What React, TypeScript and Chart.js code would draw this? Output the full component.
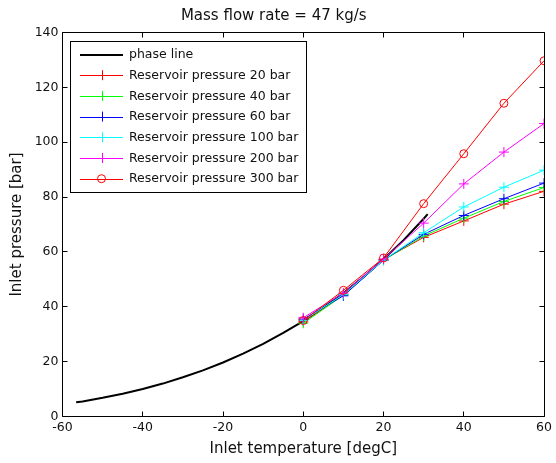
import React, { useEffect, useRef } from "react";
import { Chart, registerables } from "chart.js";

Chart.register(...registerables);

const TITLE = "Mass flow rate = 47 kg/s";
const X_TITLE = "Inlet temperature [degC]";
const Y_TITLE = "Inlet pressure [bar]";

const X_MIN = -60;
const X_MAX = 60;
const X_STEP = 20;
const Y_MIN = 0;
const Y_MAX = 140;
const Y_STEP = 20;

// CO2 phase line (saturation curve)
const PHASE_T = [-56.6, -55, -50, -45, -40, -35, -30, -25, -20, -15, -10, -5, 0, 5, 10, 15, 20, 25, 30, 31];
const PHASE_P = [5.2, 5.5, 6.8, 8.3, 10.0, 12.0, 14.3, 16.8, 19.7, 22.9, 26.5, 30.5, 34.8, 39.7, 45.0, 50.9, 57.3, 64.3, 72.1, 73.8];

const TEMPS = [0, 10, 20, 30, 40, 50, 60];
const P20 = [34.5, 44.5, 57.2, 65.3, 71.3, 77.4, 82.1];
const P40 = [34.0, 44.2, 57.0, 65.8, 72.3, 78.4, 83.5];
const P60 = [35.5, 44.0, 57.0, 66.4, 73.3, 79.4, 85.1];
const P100 = [35.0, 44.5, 57.0, 67.0, 76.4, 83.6, 89.8];
const P200 = [36.0, 45.0, 57.4, 70.5, 84.8, 96.4, 106.8];
const P300 = [35.0, 46.0, 57.8, 77.6, 95.8, 114.2, 129.7];

const LABELS = [
  "phase line",
  "Reservoir pressure 20 bar",
  "Reservoir pressure 40 bar",
  "Reservoir pressure 60 bar",
  "Reservoir pressure 100 bar",
  "Reservoir pressure 200 bar",
  "Reservoir pressure 300 bar",
];
const COLORS = ["#000000", "#ff0000", "#00ff00", "#0000ff", "#00ffff", "#ff00ff", "#ff0000"];
const MARKERS = ["none", "cross", "cross", "cross", "cross", "cross", "circle"];

const FONT = "'DejaVu Sans', sans-serif";

const toXY = (xs: number[], ys: number[]) => xs.map((x, i) => ({ x, y: ys[i] }));

const framePlugin = {
  id: "matlabFrame",
  afterDatasetsDraw(chart: any) {
    const { ctx, chartArea: a, scales } = chart;
    const snap = (v: number) => Math.round(v - 0.5) + 0.5;
    const L = snap(a.left), R = snap(a.right), T = snap(a.top), B = snap(a.bottom);
    ctx.save();
    ctx.strokeStyle = "#000";
    ctx.lineWidth = 1;
    ctx.beginPath();
    ctx.rect(L, T, R - L, B - T);
    const tl = 5;
    for (let v = X_MIN; v <= X_MAX; v += X_STEP) {
      const px = snap(scales.x.getPixelForValue(v));
      ctx.moveTo(px, B); ctx.lineTo(px, B - tl);
      ctx.moveTo(px, T); ctx.lineTo(px, T + tl);
    }
    for (let v = Y_MIN; v <= Y_MAX; v += Y_STEP) {
      const py = snap(scales.y.getPixelForValue(v));
      ctx.moveTo(L, py); ctx.lineTo(L + tl, py);
      ctx.moveTo(R, py); ctx.lineTo(R - tl, py);
    }
    ctx.stroke();

    // legend box (MATLAB style, inside the axes, top-left)
    const lx = 70.5, ly = 41.5, lw = 236, lh = 151;
    ctx.fillStyle = "#fff";
    ctx.fillRect(lx, ly, lw, lh);
    ctx.strokeRect(lx, ly, lw, lh);
    ctx.font = `12.5px ${FONT}`;
    ctx.textBaseline = "middle";
    ctx.textAlign = "left";
    chart.data.datasets.forEach((ds: any, i: number) => {
      const cy = 54.5 + i * 20.7;
      const x0 = 80, x1 = 123, xm = (x0 + x1) / 2;
      ctx.strokeStyle = COLORS[i];
      ctx.lineWidth = i === 0 ? 2 : 1;
      ctx.beginPath();
      ctx.moveTo(x0, Math.round(cy) + (i === 0 ? 0 : 0.5));
      ctx.lineTo(x1, Math.round(cy) + (i === 0 ? 0 : 0.5));
      ctx.stroke();
      ctx.lineWidth = 1;
      if (MARKERS[i] === "cross") {
        ctx.beginPath();
        ctx.moveTo(xm - 5, Math.round(cy) + 0.5);
        ctx.lineTo(xm + 5, Math.round(cy) + 0.5);
        ctx.moveTo(Math.round(xm) + 0.5, cy - 5);
        ctx.lineTo(Math.round(xm) + 0.5, cy + 5);
        ctx.stroke();
      } else if (MARKERS[i] === "circle") {
        ctx.beginPath();
        ctx.arc(xm, cy, 4, 0, Math.PI * 2);
        ctx.stroke();
      }
      ctx.fillStyle = "#111";
      ctx.fillText(ds.label, 129, cy + 0.5);
    });
    ctx.restore();
  },
};

export default function App() {
  const ref = useRef<HTMLCanvasElement | null>(null);

  useEffect(() => {
    if (!ref.current) return;
    const seriesVals = [P20, P40, P60, P100, P200, P300];
    const datasets: any[] = [
      {
        label: LABELS[0],
        data: toXY(PHASE_T, PHASE_P),
        borderColor: COLORS[0],
        backgroundColor: COLORS[0],
        borderWidth: 2,
        pointRadius: 0,
        order: 10,
      },
      ...seriesVals.map((vals, k) => ({
        label: LABELS[k + 1],
        data: toXY(TEMPS, vals),
        borderColor: COLORS[k + 1],
        backgroundColor: "rgba(0,0,0,0)",
        borderWidth: 1,
        pointStyle: MARKERS[k + 1],
        pointRadius: MARKERS[k + 1] === "circle" ? 4 : 5,
        pointBorderWidth: 1,
        pointBorderColor: COLORS[k + 1],
        pointBackgroundColor: "rgba(0,0,0,0)",
        order: 9 - k,
      })),
    ];

    const chart = new Chart(ref.current, {
      type: "line",
      data: { datasets },
      options: {
        animation: false,
        responsive: false,
        devicePixelRatio: 1,
        layout: { padding: { left: 0, right: 8.5, top: 0, bottom: 0 } },
        plugins: {
          legend: { display: false },
          tooltip: { enabled: false },
          title: {
            display: true,
            text: TITLE,
            color: "#111",
            font: { family: FONT, size: 15, weight: "normal" },
            padding: { top: 7.5, bottom: 7 },
          },
        },
        scales: {
          x: {
            type: "linear",
            min: X_MIN,
            max: X_MAX,
            grid: { display: false, drawTicks: false },
            border: { display: false },
            ticks: {
              stepSize: X_STEP,
              color: "#111",
              padding: 4,
              maxRotation: 0,
              font: { family: FONT, size: 12.5 },
            },
            title: {
              display: true,
              text: X_TITLE,
              color: "#111",
              font: { family: FONT, size: 15 },
              padding: { top: 0, bottom: 4.5 },
            },
            afterFit: (s: any) => { s.height = 46.5; },
          },
          y: {
            type: "linear",
            min: Y_MIN,
            max: Y_MAX,
            grid: { display: false, drawTicks: false },
            border: { display: false },
            ticks: {
              stepSize: Y_STEP,
              color: "#111",
              padding: 4,
              font: { family: FONT, size: 12.5 },
            },
            title: {
              display: true,
              text: Y_TITLE,
              color: "#111",
              font: { family: FONT, size: 15 },
              padding: { top: 8.5, bottom: 0 },
            },
            afterFit: (s: any) => { s.width = 62.5; },
          },
        },
      },
      plugins: [framePlugin],
    });
    return () => chart.destroy();
  }, []);

  return (
    <div style={{ position: "absolute", left: 0, top: 0, width: 556, height: 463, background: "#fff" }}>
      <canvas ref={ref} width={556} height={463} style={{ display: "block" }} />
    </div>
  );
}
